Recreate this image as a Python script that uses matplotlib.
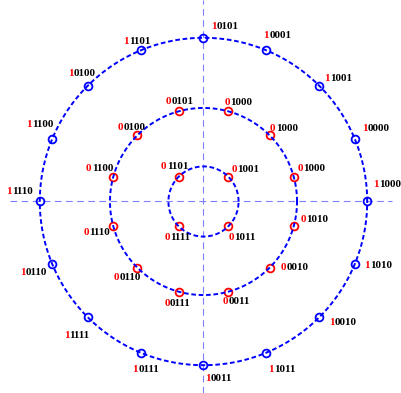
import numpy as np
import matplotlib
matplotlib.use("Agg")
import matplotlib.pyplot as plt

# 32-APSK constellation: 4 + 12 + 16 points on three rings
ring_radius = [1.5, 4.0, 7.0]

inner_deg = [135, 45, -45, -135]
inner_codes = ["01101", "01001", "01011", "01111"]

middle_deg = [105, 75, 45, 15, -15, -45, -75, -105, -135, -165, 165, 135]
middle_codes = ["00101", "01000", "01000", "01000", "01010", "00010",
                "00011", "00111", "00110", "01110", "01100", "00100"]

outer_deg = [90, 67.5, 45, 22.5, 0, -22.5, -45, -67.5,
             -90, -112.5, -135, -157.5, 180, 157.5, 135, 112.5]
outer_codes = ["10101", "10001", "11001", "10000", "11000", "11010", "10010", "11011",
               "10011", "10111", "11111", "10110", "11110", "11100", "10100", "11101"]

# label centre offsets from each marker, pixels (x right, y down)
inner_off = [(-4, -11), (17, -8.5), (14, 9.7), (-0.6, 10)]
middle_off = [(0.5, -11), (10.5, -9.5), (14, -8), (17, -9.5), (20, -7.7), (24.7, -1.2),
              (9, 8.3), (-1.3, 11), (-10, 9), (-16, 5.3), (-13.5, -9.5), (-6, -9)]
outer_off = [(21, -12), (11, -16), (19, -8), (21, -11), (19.5, -18), (23.3, 0.3),
             (23.3, 4.3), (15.7, 15.7), (15.2, 12.7), (5.3, 15.7), (-10.3, 16.7),
             (-18.7, 7.7), (-20, -11.5), (-12, -15), (-6, -13), (-4, -10)]

W, H = 402, 393
cx, cy = 203.5, 201.5          # centre in pixels
scale = 163.7 / ring_radius[2]  # pixels per unit

fig = plt.figure(figsize=(W / 100, H / 100), dpi=100)
ax = fig.add_axes([0, 0, 1, 1])
ax.set_xlim(-cx / scale, (W - cx) / scale)
ax.set_ylim(-(H - cy) / scale, cy / scale)
ax.axis("off")

# axis cross
axis_col = "#7f7fff"
ax.plot([-(cx - 10) / scale, (W - 10 - cx) / scale], [0, 0], color=axis_col,
        lw=0.8, dashes=(6, 4), zorder=1)
ax.plot([0, 0], [-(H - cy) / scale, cy / scale], color=axis_col,
        lw=0.8, dashes=(6, 4), zorder=1)

# dashed rings
t = np.linspace(0, 2 * np.pi, 400)
for r in ring_radius:
    ax.plot(r * np.cos(t), r * np.sin(t), color="#0000ff", lw=1.4,
            dashes=(2.4, 1.4), zorder=3)

rings = [
    (ring_radius[0], inner_deg, inner_codes, inner_off, "#ff0000"),
    (ring_radius[1], middle_deg, middle_codes, middle_off, "#ff0000"),
    (ring_radius[2], outer_deg, outer_codes, outer_off, "#0000ff"),
]

for r, deg, codes, offs, mcol in rings:
    a = np.deg2rad(deg)
    x = r * np.cos(a)
    y = r * np.sin(a)
    ax.plot(x, y, "o", ms=5.6, mfc="none", mec=mcol, mew=1.3, zorder=2)
    for xi, yi, code, (dx, dy) in zip(x, y, codes, offs):
        oy = -(dy + 3.6)
        ax.annotate(code[0], (xi, yi), xytext=(dx - 8.2, oy), textcoords="offset pixels",
                    ha="right", va="baseline", color="#ff0000", fontsize=8,
                    fontweight="bold", family="Liberation Serif", zorder=4)
        ax.annotate(code[1:], (xi, yi), xytext=(dx - 7.9, oy), textcoords="offset pixels",
                    ha="left", va="baseline", color="black", fontsize=8,
                    fontweight="bold", family="Liberation Serif", zorder=4)

fig.savefig("out.png", dpi=100)
